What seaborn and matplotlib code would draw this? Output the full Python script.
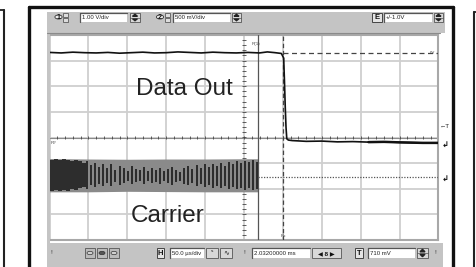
import numpy as np
import matplotlib
matplotlib.use("Agg")
import matplotlib.pyplot as plt
import seaborn as sns
from matplotlib.patches import Rectangle, Circle, Polygon
from matplotlib.lines import Line2D

# ---------------- data (time in us, amplitude in divisions) ----------------
data_t = [-250, -235, -220, -205, -190, -175, -160, -145, -130, -115, -100, -85, -70,
          -55, -40, -25, -10, 5, 20, 30, 40, 48, 51, 52, 53, 54, 55, 57, 62, 80, 100,
          120, 140, 160, 180, 200, 215, 230, 250]
data_v = [3.32, 3.30, 3.33, 3.31, 3.30, 3.32, 3.29, 3.31, 3.33, 3.30, 3.31, 3.34, 3.32,
          3.30, 3.33, 3.31, 3.30, 3.32, 3.30, 3.34, 3.31, 3.28, 3.10, 2.20, 1.20, 0.40,
          -0.05, -0.10, -0.12, -0.15, -0.14, -0.17, -0.16, -0.18, -0.17, -0.19, -0.20,
          -0.21, -0.21]

carrier_hi = [-0.86, -0.84, -0.88, -0.85, -0.87, -0.90, -0.86, -0.93, -1.00, -0.92, -1.08,
              -0.98, -1.15, -1.02, -1.20, -1.05, -1.25, -1.10, -1.18, -1.30, -1.12, -1.22,
              -1.28, -1.15, -1.32, -1.20, -1.27, -1.18, -1.30, -1.22, -1.14, -1.26, -1.33,
              -1.19, -1.12, -1.24, -1.08, -1.20, -1.05, -1.16, -1.02, -1.12, -0.98, -1.10,
              -0.95, -1.05, -0.92, -1.00, -0.90, -0.97, -0.88, -0.95]
carrier_lo = [-2.08, -2.06, -2.10, -2.05, -2.07, -2.02, -2.06, -1.98, -1.92, -2.00, -1.86,
              -1.95, -1.80, -1.90, -1.76, -1.88, -1.72, -1.84, -1.78, -1.70, -1.82, -1.74,
              -1.70, -1.80, -1.68, -1.76, -1.72, -1.82, -1.70, -1.78, -1.85, -1.74, -1.68,
              -1.80, -1.86, -1.76, -1.90, -1.80, -1.93, -1.84, -1.96, -1.88, -1.98, -1.90,
              -2.00, -1.93, -2.02, -1.96, -2.04, -1.98, -2.05, -2.00]
env_t = [-250, -200, -150, -100, -50, 0, 18.6]
env_hi = [-0.82, -0.84, -0.85, -0.84, -0.84, -0.83, -0.83]
env_lo = [-2.12, -2.12, -2.10, -2.11, -2.12, -2.12, -2.12]
carrier_end = 18.6
idle_level = -1.54
marker_t = 50.5
ref_level = 3.30

labels_top = ["1.00 V/div", "500 mV/div", "+/-1.0V"]
labels_bottom = ["50.0 \u00b5s/div", "2.03200000 ms", "710 mV"]

# ---------------- figure ----------------
W, H = 477, 267
sns.set_style("white")
plt.rcParams["font.family"] = ["Liberation Sans", "DejaVu Sans"]
fig = plt.figure(figsize=(W / 100, H / 100), dpi=100)
fig.patch.set_facecolor("white")


def R(x0, y0, x1, y1, **kw):
    fig.add_artist(Rectangle((x0 / W, 1 - y1 / H), (x1 - x0) / W, (y1 - y0) / H,
                             transform=fig.transFigure, **kw))


def L(x0, y0, x1, y1, **kw):
    fig.add_artist(Line2D([x0 / W, x1 / W], [1 - y0 / H, 1 - y1 / H],
                          transform=fig.transFigure, **kw))


def T(x, y, s, **kw):
    fig.text(x / W, 1 - y / H, s, **kw)


# outer frame lines
L(0, 10, 4, 10, color="#222", lw=1.3)
L(4, 10, 4, 267, color="#222", lw=1.5)
L(29.5, 7, 29.5, 267, color="#111", lw=2.4)
L(29.5, 7, 453, 7, color="#111", lw=2.4)
L(453, 7, 453, 267, color="#111", lw=2.4)
L(474, 12, 477, 12, color="#222", lw=1.3)
L(474, 12, 474, 267, color="#222", lw=1.5)

# gray application panel
gray = "#c4c4c4"
R(47, 12, 445, 33, color=gray, lw=0)
R(47, 12, 50, 267, color=gray, lw=0)
R(47, 243, 443, 267, color=gray, lw=0)
L(47, 33, 440, 33, color="#8a8a8a", lw=0.8)


def textbox(x0, x1, y0, y1, s):
    R(x0, y0, x1, y1, facecolor="white", edgecolor="none")
    L(x0, y0, x1, y0, color="#555", lw=0.9)
    L(x0, y0, x0, y1, color="#555", lw=0.9)
    T(x0 + 2, (y0 + y1) / 2 + 0.5, s, fontsize=4.3, va="center", ha="left", color="#222")


def spinner(x0, x1, y0, y1):
    R(x0, y0, x1, y1, facecolor="#d8d8d8", edgecolor="#555", lw=0.6)
    ym = (y0 + y1) / 2
    L(x0, ym, x1, ym, color="#555", lw=0.5)
    xc = (x0 + x1) / 2
    fig.add_artist(Polygon([[(xc - 2.5) / W, 1 - (ym - 1.2) / H], [(xc + 2.5) / W, 1 - (ym - 1.2) / H],
                            [xc / W, 1 - (y0 + 1.3) / H]], transform=fig.transFigure, color="#222"))
    fig.add_artist(Polygon([[(xc - 2.5) / W, 1 - (ym + 1.2) / H], [(xc + 2.5) / W, 1 - (ym + 1.2) / H],
                            [xc / W, 1 - (y1 - 1.3) / H]], transform=fig.transFigure, color="#222"))


def boxletter(x0, x1, y0, y1, s):
    R(x0, y0, x1, y1, facecolor="#e4e4e4", edgecolor="#444", lw=0.7)
    T((x0 + x1) / 2, (y0 + y1) / 2 + 0.3, s, fontsize=5.5, ha="center", va="center",
      color="#111", fontweight="bold")


def chan(xc, s):
    fig.add_artist(Circle((xc / W, 1 - 17 / H), 3.6 / W, transform=fig.transFigure,
                          facecolor="#eee", edgecolor="#333", lw=0.6))
    T(xc, 17.3, s, fontsize=5, ha="center", va="center", color="#111", fontweight="bold")
    R(xc + 5, 13, xc + 10, 17, facecolor="#ddd", edgecolor="#444", lw=0.5)
    R(xc + 5, 18, xc + 10, 22, facecolor="#ddd", edgecolor="#444", lw=0.5)


# top toolbar
chan(58.5, "1")
textbox(80, 127, 13, 22, labels_top[0])
spinner(130, 140, 13, 22)
chan(160, "2")
textbox(173, 230, 13, 22, labels_top[1])
spinner(232, 241, 13, 22)
boxletter(372, 382, 13, 22, "E")
textbox(384, 432, 13, 22, labels_top[2])
spinner(434, 443, 13, 22)

# bottom toolbar
T(51.5, 253, "!", fontsize=4.5, ha="center", va="center", color="#333")
for i, fc in enumerate(["#d0d0d0", "#555", "#d0d0d0"]):
    R(85 + i * 12, 248, 95 + i * 12, 258, facecolor="#bbb", edgecolor="#555", lw=0.6)
    fig.add_artist(Circle(((90 + i * 12) / W, 1 - 253 / H), 3 / W, transform=fig.transFigure,
                          facecolor=fc, edgecolor="#333", lw=0.5))
boxletter(157, 164, 248, 258, "H")
textbox(170, 204, 248, 258, labels_bottom[0])
R(206, 248, 218, 258, facecolor="#d8d8d8", edgecolor="#555", lw=0.6)
R(220, 248, 232, 258, facecolor="#d8d8d8", edgecolor="#555", lw=0.6)
T(212, 253, "\u02e2", fontsize=5, ha="center", va="center", color="#222")
T(226, 253, "\u223f", fontsize=5, ha="center", va="center", color="#222")
T(244, 253, "!", fontsize=4.5, ha="center", va="center", color="#333")
textbox(252, 310, 248, 258, labels_bottom[1])
R(312, 248, 341, 258, facecolor="#d8d8d8", edgecolor="#555", lw=0.6)
T(326.5, 253.3, "\u25c0 8 \u25b6", fontsize=4.5, ha="center", va="center", color="#111",
  fontweight="bold")
boxletter(355, 363, 248, 258, "T")
textbox(368, 415, 248, 258, labels_bottom[2])
spinner(417, 428, 248, 258)
T(435, 253, "!", fontsize=4.5, ha="center", va="center", color="#333")

# ---------------- scope axes ----------------
ax = fig.add_axes([49.5 / W, 1 - 240 / H, 389 / W, 205 / H])
ax.set_facecolor("white")
ax.set_xlim(-250, 250)
ax.set_ylim(-4, 4)
ax.set_xticks(np.arange(-250, 251, 50))
ax.set_yticks(np.arange(-4, 5, 1))
ax.grid(True, color="#cfcfcf", lw=1.3)
ax.tick_params(length=0, labelbottom=False, labelleft=False)
for sp in ax.spines.values():
    sp.set_color("#a8a8a8")
    sp.set_linewidth(1.5)

# center axes with minor ticks
ax.axhline(0, color="#8a8a8a", lw=0.8, zorder=2)
ax.vlines(np.arange(-240, 250, 10), -0.07, 0.07, color="#444", lw=0.6, zorder=2)
ax.hlines(np.arange(-3.8, 3.9, 0.2), -2.2, 2.2, color="#444", lw=0.6, zorder=2)

# carrier band: gray envelope + black strokes
ax.fill_between(env_t, env_lo, env_hi, color="#8a8a8a", lw=0, zorder=3)
stroke_t = np.linspace(-248.5, carrier_end - 1.5, len(carrier_hi))
ax.vlines(stroke_t, carrier_lo, carrier_hi, color="#111", lw=1.1, zorder=4)
ax.vlines(stroke_t[:9] + 2.5, carrier_lo[:9], carrier_hi[:9], color="#111", lw=1.1, zorder=4)
ax.plot([carrier_end, 250], [idle_level, idle_level], color="#555", lw=0.9,
        linestyle=(0, (1, 1.2)), zorder=4)

# markers
ax.axvline(carrier_end, color="#555", lw=0.9, zorder=3)
ax.axvline(marker_t, color="#444", lw=0.9, linestyle=(0, (3.5, 2.2)), zorder=3)
ax.plot([marker_t, 250], [ref_level, ref_level], color="#444", lw=0.9,
        linestyle=(0, (4, 2.8)), zorder=3)

# data out
sns.lineplot(x=data_t, y=data_v, ax=ax, color="#111", lw=1.2, errorbar=None, zorder=5)
sns.lineplot(x=data_t[-6:], y=data_v[-6:], ax=ax, color="#111", lw=1.8, errorbar=None, zorder=5)

ax.text(-76, 1.88, "Data Out", fontsize=17.5, color="#222", ha="center", va="center")
ax.text(-98, -3.05, "Carrier", fontsize=17.5, color="#222", ha="center", va="center")

# tiny marker labels
T(256, 44, "R(1)", fontsize=3.2, ha="center", va="center", color="#444")
T(283, 236, "Rx", fontsize=3.2, ha="center", va="center", color="#444")
T(433, 53, "0V", fontsize=3.2, ha="center", va="center", color="#444")
T(53, 143, "R?", fontsize=3.2, ha="center", va="center", color="#444")
T(445, 127, "\u2190T", fontsize=4.5, ha="center", va="center", color="#222")
T(445, 146, "\u21b2", fontsize=6, ha="center", va="center", color="#111", fontweight="bold")
T(445, 180, "\u21b2", fontsize=6, ha="center", va="center", color="#111", fontweight="bold")

fig.savefig("out.png", dpi=100)
